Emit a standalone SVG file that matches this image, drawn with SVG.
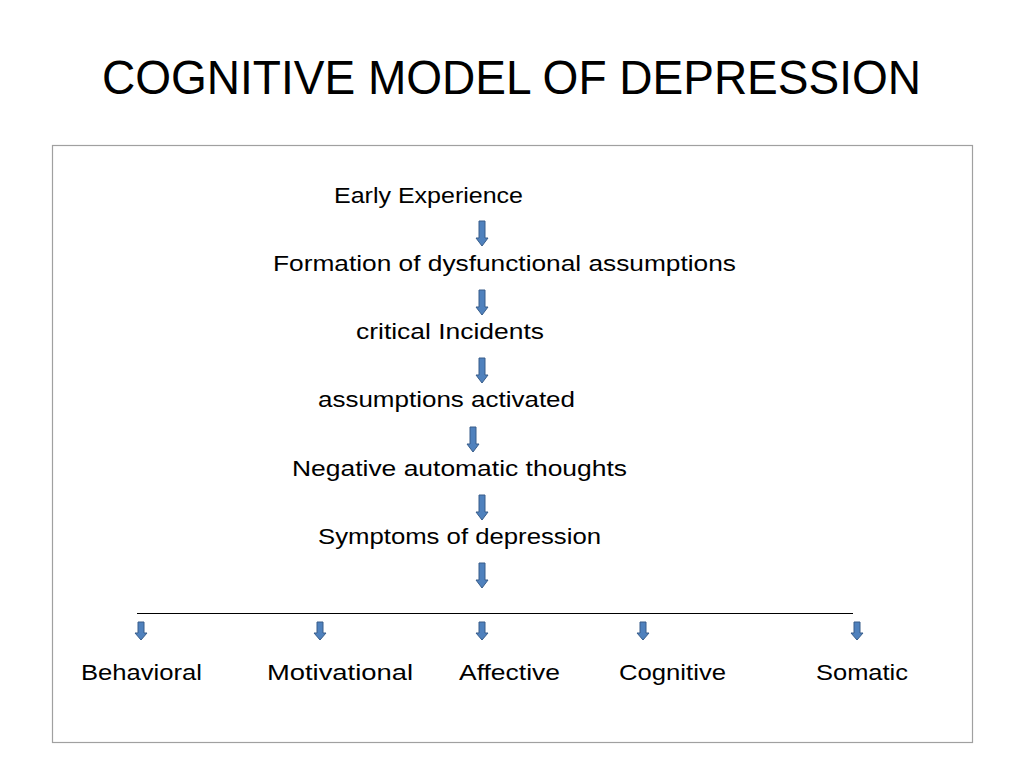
<svg xmlns="http://www.w3.org/2000/svg" width="1024" height="768" viewBox="0 0 1024 768">
<defs>
<style>
.t{font-family:"Liberation Sans",Arial,sans-serif;fill:#000}
.b{font-size:22px}
.arr{fill:#4f81bd;stroke:#385d8a;stroke-width:1}
</style>
<path id="a" d="M-3,0 H3 V17 H6 L0,25 L-6,17 H-3 Z"/>
<path id="s" d="M-3,0 H3 V11 H6 L0,18 L-6,11 H-3 Z"/>
</defs>
<rect width="1024" height="768" fill="#fff"/>
<text class="t" x="102" y="94" font-size="49" textLength="819" lengthAdjust="spacingAndGlyphs">COGNITIVE MODEL OF DEPRESSION</text>
<rect x="52.5" y="145.5" width="920" height="597" fill="none" stroke="#a0a0a0" stroke-width="1.2"/>
<g id="n1"><text class="t b" x="334" y="203" textLength="189" lengthAdjust="spacingAndGlyphs">Early Experience</text></g>
<g id="n2"><text class="t b" x="273" y="271" textLength="463" lengthAdjust="spacingAndGlyphs">Formation of dysfunctional assumptions</text></g>
<g id="n3"><text class="t b" x="356" y="339" textLength="188" lengthAdjust="spacingAndGlyphs">critical Incidents</text></g>
<g id="n4"><text class="t b" x="318" y="407" textLength="257" lengthAdjust="spacingAndGlyphs">assumptions activated</text></g>
<g id="n5"><text class="t b" x="292" y="476" textLength="335" lengthAdjust="spacingAndGlyphs">Negative automatic thoughts</text></g>
<g id="n6"><text class="t b" x="318" y="544" textLength="283" lengthAdjust="spacingAndGlyphs">Symptoms of depression</text></g>
<g id="n7"><text class="t b" x="81" y="680" textLength="121" lengthAdjust="spacingAndGlyphs">Behavioral</text></g>
<g id="n8"><text class="t b" x="267" y="680" textLength="146" lengthAdjust="spacingAndGlyphs">Motivational</text></g>
<g id="n9"><text class="t b" x="459" y="680" textLength="101" lengthAdjust="spacingAndGlyphs">Affective</text></g>
<g id="n10"><text class="t b" x="619" y="680" textLength="107" lengthAdjust="spacingAndGlyphs">Cognitive</text></g>
<g id="n11"><text class="t b" x="816" y="680" textLength="92" lengthAdjust="spacingAndGlyphs">Somatic</text></g>
<g id="connectors">
<use href="#a" class="arr" x="482" y="221"/>
<use href="#a" class="arr" x="482" y="290"/>
<use href="#a" class="arr" x="482" y="358"/>
<use href="#a" class="arr" x="473" y="427"/>
<use href="#a" class="arr" x="482" y="495"/>
<use href="#a" class="arr" x="482" y="563"/>
<line x1="137" y1="613.5" x2="853" y2="613.5" stroke="#000" stroke-width="1.2"/>
<use href="#s" class="arr" x="141" y="622"/>
<use href="#s" class="arr" x="320" y="622"/>
<use href="#s" class="arr" x="482" y="622"/>
<use href="#s" class="arr" x="643" y="622"/>
<use href="#s" class="arr" x="857" y="622"/>
</g>
</svg>
